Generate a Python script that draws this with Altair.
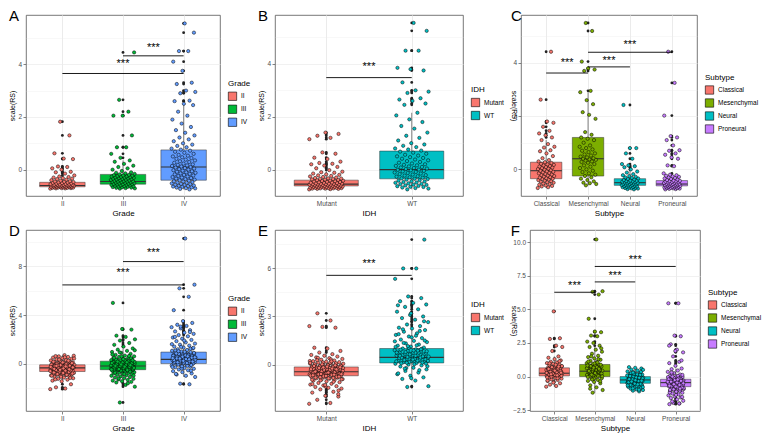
import altair as alt
import pandas as pd

FONT = "Liberation Sans"

# ---------------- Panel A (Grade) ----------------
A_cats = ["II", "III", "IV"]
A_II = [-0.72, -0.71, -0.71, -0.70, -0.70, -0.69, -0.69, -0.68, -0.68, -0.67, -0.67, -0.66, -0.66, -0.65, -0.65,
        -0.64, -0.64, -0.63, -0.63, -0.62, -0.62, -0.61, -0.61, -0.60, -0.60, -0.60, -0.59, -0.59, -0.58, -0.58,
        -0.57, -0.57, -0.56, -0.56, -0.55, -0.54, -0.53, -0.52, -0.51, -0.50, -0.49, -0.48, -0.47, -0.46, -0.45,
        -0.44, -0.42, -0.40, -0.38, -0.36, -0.34, -0.32, -0.30, -0.28, -0.26, -0.22, -0.15, -0.10, -0.08, 0.00,
        0.05, 0.10, 0.12, 0.40, 0.42, 0.62, 1.30, 1.82]
A_III = [-0.72, -0.71, -0.70, -0.69, -0.68, -0.67, -0.66, -0.65, -0.64, -0.63, -0.62, -0.61, -0.60, -0.59, -0.58,
         -0.57, -0.56, -0.55, -0.55, -0.54, -0.53, -0.52, -0.51, -0.50, -0.49, -0.48, -0.47, -0.46, -0.45, -0.45,
         -0.44, -0.43, -0.42, -0.41, -0.40, -0.39, -0.38, -0.37, -0.36, -0.35, -0.34, -0.33, -0.32, -0.31, -0.30,
         -0.29, -0.28, -0.27, -0.26, -0.25, -0.24, -0.23, -0.22, -0.21, -0.20, -0.18, -0.16, -0.14, -0.12, -0.10,
         -0.05, 0.00, 0.05, 0.10, 0.15, 0.22, 0.30, 0.35, 0.45, 0.60, 0.85, 0.85, 1.30, 2.05, 2.05, 2.20, 2.65, 4.45]
A_IV = [-0.75, -0.73, -0.71, -0.70, -0.68, -0.67, -0.65, -0.64, -0.62, -0.61, -0.60, -0.58, -0.57, -0.55, -0.54,
        -0.52, -0.50, -0.49, -0.47, -0.45, -0.44, -0.42, -0.40, -0.38, -0.36, -0.34, -0.32, -0.30, -0.28, -0.26,
        -0.24, -0.22, -0.20, -0.18, -0.16, -0.14, -0.12, -0.10, -0.08, -0.06, -0.04, -0.02, 0.00, 0.02, 0.04,
        0.06, 0.08, 0.10, 0.12, 0.14, 0.16, 0.18, 0.20, 0.23, 0.26, 0.29, 0.32, 0.35, 0.38, 0.41, 0.44, 0.47,
        0.50, 0.53, 0.56, 0.60, 0.64, 0.68, 0.72, 0.76, 0.80, 0.85, 0.90, 0.95, 1.00, 1.08, 1.15, 1.22, 1.30,
        1.40, 1.50, 1.62, 1.75, 1.90, 2.05, 2.20, 2.45, 2.50, 2.60, 2.62, 2.90, 2.95, 3.00, 3.25, 3.30, 3.75,
        4.10, 4.50, 4.50, 5.20, 5.55]
A_lo = [-0.72, -0.72, -0.75]
A_q1 = [-0.65, -0.55, -0.40]
A_med = [-0.60, -0.45, 0.10]
A_q3 = [-0.48, -0.18, 0.75]
A_hi = [-0.26, 0.35, 2.50]
A_sig_from = [1, 2]
A_sig_to = [3, 3]
A_sig_bar = [3.65, 4.32]
A_sig_lab = [4.00, 4.60]

# ---------------- Panel B (IDH) ----------------
B_cats = ["Mutant", "WT"]
B_Mut = [-0.75, -0.74, -0.73, -0.73, -0.72, -0.72, -0.71, -0.71, -0.70, -0.70, -0.69, -0.69, -0.68, -0.68, -0.67,
         -0.67, -0.66, -0.66, -0.65, -0.65, -0.64, -0.64, -0.63, -0.63, -0.62, -0.62, -0.61, -0.61, -0.60, -0.60,
         -0.59, -0.59, -0.58, -0.58, -0.57, -0.57, -0.56, -0.56, -0.55, -0.55, -0.54, -0.54, -0.53, -0.53, -0.52,
         -0.51, -0.50, -0.50, -0.49, -0.48, -0.47, -0.46, -0.45, -0.44, -0.43, -0.42, -0.41, -0.40, -0.39, -0.38,
         -0.37, -0.36, -0.35, -0.34, -0.33, -0.32, -0.30, -0.28, -0.26, -0.24, -0.22, -0.20, -0.18, -0.15, -0.12,
         -0.10, -0.08, -0.02, 0.05, 0.10, 0.15, 0.20, 0.22, 0.25, 0.30, 0.40, 0.45, 0.60, 0.65, 1.15, 1.20,
         1.28, 1.35, 1.40]
B_WT = [-0.75, -0.72, -0.70, -0.68, -0.66, -0.65, -0.63, -0.62, -0.60, -0.58, -0.57, -0.55, -0.54, -0.52, -0.50,
        -0.49, -0.47, -0.45, -0.44, -0.42, -0.40, -0.38, -0.36, -0.35, -0.33, -0.31, -0.29, -0.27, -0.25, -0.23,
        -0.21, -0.19, -0.17, -0.15, -0.13, -0.11, -0.09, -0.07, -0.05, -0.03, -0.01, 0.00, 0.02, 0.04, 0.06,
        0.08, 0.10, 0.12, 0.14, 0.16, 0.18, 0.20, 0.23, 0.26, 0.29, 0.32, 0.35, 0.38, 0.41, 0.44, 0.47, 0.50,
        0.53, 0.56, 0.60, 0.64, 0.68, 0.72, 0.76, 0.80, 0.85, 0.90, 0.95, 1.00, 1.10, 1.20, 1.28, 1.40, 1.55,
        1.65, 1.80, 1.90, 2.05, 2.15, 2.45, 2.50, 2.60, 2.65, 2.70, 2.90, 2.95, 3.00, 3.30, 3.75, 3.80, 3.85,
        4.50, 4.50, 5.25, 5.55]
B_lo = [-0.75, -0.75]
B_q1 = [-0.62, -0.35]
B_med = [-0.55, 0.00]
B_q3 = [-0.40, 0.70]
B_hi = [-0.08, 2.15]
B_sig_from = [1]
B_sig_to = [2]
B_sig_bar = [3.48]
B_sig_lab = [3.90]

# ---------------- Panel C (Subtype) ----------------
C_cats = ["Classical", "Mesenchymal", "Neural", "Proneural"]
C_Cla = [-0.70, -0.67, -0.64, -0.62, -0.60, -0.58, -0.55, -0.53, -0.50, -0.48, -0.46, -0.44, -0.42, -0.40, -0.38,
         -0.36, -0.35, -0.33, -0.31, -0.29, -0.27, -0.25, -0.23, -0.21, -0.19, -0.17, -0.15, -0.13, -0.11, -0.09,
         -0.07, -0.05, -0.03, -0.01, 0.01, 0.03, 0.05, 0.07, 0.09, 0.11, 0.13, 0.15, 0.17, 0.19, 0.21, 0.24,
         0.27, 0.30, 0.35, 0.42, 0.50, 0.60, 0.68, 0.72, 0.82, 0.85, 0.95, 1.10, 1.20, 1.28, 1.35, 1.45, 1.60,
         1.75, 1.80, 2.62, 4.42]
C_Mes = [-0.60, -0.55, -0.52, -0.50, -0.45, -0.40, -0.35, -0.30, -0.25, -0.20, -0.15, -0.10, -0.05, 0.00, 0.05,
         0.10, 0.15, 0.20, 0.25, 0.28, 0.30, 0.33, 0.36, 0.38, 0.40, 0.42, 0.45, 0.48, 0.52, 0.56, 0.60, 0.65,
         0.70, 0.75, 0.80, 0.85, 0.90, 1.00, 1.10, 1.15, 1.20, 1.30, 1.40, 1.90, 2.05, 2.15, 2.45, 2.60, 2.90,
         2.95, 3.70, 3.75, 3.80, 4.05, 5.20, 5.50]
C_Neu = [-0.75, -0.74, -0.72, -0.71, -0.70, -0.69, -0.68, -0.67, -0.66, -0.65, -0.64, -0.63, -0.62, -0.61, -0.60,
         -0.59, -0.58, -0.57, -0.56, -0.55, -0.54, -0.53, -0.52, -0.51, -0.50, -0.49, -0.48, -0.47, -0.46, -0.45,
         -0.44, -0.43, -0.42, -0.40, -0.38, -0.36, -0.34, -0.32, -0.30, -0.28, -0.25, -0.22, -0.18, -0.12, -0.08,
         0.00, 0.08, 0.12, 0.15, 0.20, 0.40, 0.60, 0.80, 0.80, 2.42]
C_Pro = [-0.75, -0.74, -0.73, -0.72, -0.71, -0.70, -0.70, -0.69, -0.68, -0.67, -0.66, -0.66, -0.65, -0.64, -0.63,
         -0.62, -0.62, -0.61, -0.60, -0.59, -0.58, -0.58, -0.57, -0.56, -0.55, -0.55, -0.54, -0.53, -0.52, -0.51,
         -0.50, -0.49, -0.48, -0.47, -0.46, -0.45, -0.44, -0.43, -0.42, -0.40, -0.38, -0.36, -0.34, -0.32, -0.30,
         -0.28, -0.26, -0.24, -0.22, -0.20, -0.15, 0.12, 0.15, 0.40, 0.45, 0.55, 0.60, 0.70, 0.72, 0.90, 1.10,
         1.20, 1.25, 2.02, 3.25, 4.42]
C_lo = [-0.70, -0.60, -0.75, -0.75]
C_q1 = [-0.35, -0.25, -0.60, -0.62]
C_med = [-0.05, 0.40, -0.50, -0.55]
C_q3 = [0.27, 1.20, -0.35, -0.42]
C_hi = [1.10, 2.90, -0.05, -0.20]
C_sig_from = [1, 2, 2]
C_sig_to = [2, 3, 4]
C_sig_bar = [3.62, 3.85, 4.40]
C_sig_lab = [4.00, 4.07, 4.68]

# ---------------- Panel D (Grade) ----------------
D_II = [-2.10, -2.05, -1.95, -1.70, -1.45, -1.40, -1.32, -1.25, -1.20, -1.15, -1.10, -1.05, -1.00, -0.97, -0.94,
        -0.91, -0.88, -0.85, -0.82, -0.80, -0.78, -0.76, -0.74, -0.72, -0.70, -0.68, -0.66, -0.64, -0.62, -0.60,
        -0.58, -0.56, -0.54, -0.52, -0.50, -0.48, -0.46, -0.44, -0.42, -0.40, -0.38, -0.36, -0.35, -0.34, -0.32,
        -0.30, -0.28, -0.26, -0.24, -0.22, -0.20, -0.18, -0.16, -0.14, -0.12, -0.10, -0.08, -0.06, -0.04, -0.02,
        0.00, 0.03, 0.06, 0.09, 0.12, 0.15, 0.18, 0.22, 0.26, 0.30, 0.35, 0.40, 0.45, 0.50, 0.55, 0.60, 0.65,
        0.70, -1.30, -1.18, -1.08, -0.99, -0.92, -0.86, -0.81, -0.77, -0.73, -0.69, -0.65, -0.61, -0.57, -0.53,
        -0.49, -0.45, -0.41, -0.37, -0.33, -0.29, -0.25, -0.21, -0.17, -0.13, -0.09, -0.05, -0.01, 0.04, 0.10,
        0.16, 0.24, 0.33, 0.42, 0.52, 0.62, -0.55, -0.45, -0.35, -0.25, -0.15, -0.31, -0.39, -0.43, -0.47, -0.51,
        -0.27, -0.23, -0.19]
D_III = [-3.20, -1.90, -1.75, -1.55, -1.50, -1.45, -1.40, -1.35, -1.30, -1.25, -1.20, -1.15, -1.10, -1.05, -1.00,
         -0.96, -0.92, -0.88, -0.84, -0.80, -0.77, -0.74, -0.71, -0.68, -0.65, -0.62, -0.60, -0.58, -0.56, -0.54,
         -0.52, -0.50, -0.48, -0.46, -0.44, -0.42, -0.40, -0.38, -0.36, -0.34, -0.32, -0.30, -0.28, -0.26, -0.24,
         -0.22, -0.20, -0.18, -0.16, -0.14, -0.12, -0.10, -0.08, -0.06, -0.04, -0.02, 0.00, 0.02, 0.04, 0.06,
         0.08, 0.10, 0.12, 0.14, 0.16, 0.18, 0.20, 0.23, 0.26, 0.29, 0.32, 0.35, 0.38, 0.42, 0.46, 0.50, 0.55,
         0.60, 0.66, 0.72, 0.80, 0.88, 0.96, 1.05, 1.15, 1.25, 1.40, 1.55, 1.70, 1.90, 2.00, 2.20, 2.30, 2.80,
         2.85, 5.00, -1.62, -1.22, -0.98, -0.86, -0.75, -0.66, -0.57, -0.49, -0.41, -0.33, -0.25, -0.17, -0.09,
         -0.01, 0.07, 0.15, 0.24, 0.34, 0.45, 0.58, 0.75, -0.53, -0.47, -0.43, -0.37, -0.31, -0.27, -0.21, -0.15,
         -0.11, -0.05, 0.03, 0.09, 0.13, 0.19, -0.45, -0.35, -0.25, -0.19, -0.13, -0.07, 0.05, 0.11, 0.17, 0.27,
         0.37, 0.48, 0.63, 0.92, 1.10]
D_IV = [-1.70, -1.65, -1.10, -1.00, -0.90, -0.80, -0.70, -0.62, -0.55, -0.48, -0.42, -0.36, -0.30, -0.25, -0.20,
        -0.15, -0.10, -0.06, -0.02, 0.00, 0.03, 0.06, 0.09, 0.12, 0.15, 0.18, 0.21, 0.24, 0.27, 0.30, 0.33, 0.35,
        0.38, 0.41, 0.44, 0.47, 0.50, 0.54, 0.58, 0.62, 0.66, 0.70, 0.74, 0.78, 0.82, 0.86, 0.90, 0.95, 1.00,
        1.06, 1.12, 1.18, 1.25, 1.32, 1.40, 1.48, 1.56, 1.65, 1.75, 1.85, 1.95, 2.05, 2.15, 2.25, 2.35, 2.45,
        2.55, 2.65, 2.75, 2.90, 3.00, 3.10, 3.20, 3.35, 3.50, 4.40, 5.50, 6.20, 6.50, 10.30, -0.85, -0.58,
        -0.40, -0.28, -0.18, -0.08, 0.01, 0.08, 0.14, 0.20, 0.26, 0.32, 0.37, 0.43, 0.49, 0.56, 0.64, 0.72,
        0.80, 0.88, 0.97, 1.08, 1.22, 1.38, 1.60, 0.05, 0.11, 0.17, 0.23, 0.29, 0.36, 0.42, 0.52, 0.68, 0.84,
        -0.12, -0.22, 0.45, 0.60, 1.02, 1.30, 1.90, 2.20, 2.60, 3.05]
D_lo = [-1.45, -1.55, -1.10]
D_q1 = [-0.65, -0.50, 0.00]
D_med = [-0.35, -0.20, 0.35]
D_q3 = [-0.10, 0.20, 0.95]
D_hi = [0.70, 1.25, 2.30]
D_sig_from = [1, 2]
D_sig_to = [3, 3]
D_sig_bar = [6.48, 8.40]
D_sig_lab = [7.47, 9.09]

# ---------------- Panel E (IDH) ----------------
E_Mut = [-2.45, -2.40, -2.20, -2.00, -1.95, -1.75, -1.70, -1.55, -1.50, -1.45, -1.40, -1.35, -1.30, -1.25, -1.20,
         -1.15, -1.10, -1.05, -1.00, -0.97, -0.94, -0.91, -0.88, -0.85, -0.82, -0.80, -0.78, -0.76, -0.74, -0.72,
         -0.70, -0.68, -0.66, -0.64, -0.62, -0.60, -0.58, -0.56, -0.54, -0.52, -0.50, -0.48, -0.46, -0.45, -0.44,
         -0.42, -0.40, -0.38, -0.36, -0.34, -0.32, -0.30, -0.28, -0.26, -0.24, -0.22, -0.20, -0.18, -0.16, -0.14,
         -0.12, -0.10, -0.08, -0.06, -0.04, -0.02, 0.00, 0.03, 0.06, 0.09, 0.12, 0.15, 0.18, 0.21, 0.25, 0.30,
         0.35, 0.40, 0.45, 0.50, 0.55, 0.60, 0.65, 0.75, 0.85, 1.00, 1.05, 2.30, 2.35, 2.40, 2.75, 3.20, -1.62,
         -1.38, -1.22, -1.08, -0.99, -0.92, -0.86, -0.81, -0.77, -0.73, -0.69, -0.65, -0.61, -0.57, -0.53, -0.49,
         -0.47, -0.43, -0.39, -0.35, -0.31, -0.27, -0.23, -0.19, -0.15, -0.11, -0.07, -0.03, 0.02, 0.08, 0.14,
         0.22, 0.32, 0.42, -0.75, -0.71, -0.67, -0.63, -0.59, -0.55, -0.51, -0.41, -0.37, -0.33, -0.29, -0.25,
         -0.21, -0.17, -0.13, -0.09, -0.05, 0.01, 0.05, 0.11, 0.27, -1.85, -1.28, -0.95, -0.84, -0.79, -0.60,
         -0.50, -0.44, -0.30, -0.18, 0.10, 0.20]
E_WT = [-1.40, -1.35, -1.00, -0.90, -0.80, -0.70, -0.60, -0.50, -0.40, -0.30, -0.20, -0.12, -0.05, 0.00, 0.05,
        0.10, 0.14, 0.18, 0.22, 0.26, 0.30, 0.34, 0.38, 0.42, 0.45, 0.48, 0.52, 0.56, 0.60, 0.64, 0.68, 0.72,
        0.76, 0.80, 0.85, 0.90, 0.95, 1.00, 1.06, 1.12, 1.18, 1.25, 1.32, 1.40, 1.48, 1.56, 1.65, 1.75, 1.85,
        1.95, 2.05, 2.15, 2.25, 2.30, 2.40, 2.50, 2.65, 2.80, 2.90, 3.00, 3.10, 3.30, 3.45, 3.60, 3.75, 3.85,
        3.95, 4.15, 4.25, 5.35, 6.00, 6.00, 7.80, -0.85, -0.55, -0.35, -0.22, -0.10, 0.02, 0.08, 0.12, 0.16,
        0.20, 0.24, 0.28, 0.32, 0.36, 0.40, 0.44, 0.47, 0.50, 0.54, 0.58, 0.62, 0.66, 0.70, 0.74, 0.78, 0.83,
        0.88, 0.93, 0.98, 1.04, 1.10, 1.20, 1.35, 1.50, 1.70, 1.90, 2.10, 0.11, 0.23, 0.35, 0.43, 0.51, 0.63,
        0.75, 0.87, -0.25, 0.06, 0.31, 0.55, 0.95, 1.15, 1.45, 1.80, 2.20, 2.70, 3.20, 3.70]
E_lo = [-1.50, -1.00]
E_q1 = [-0.70, 0.10]
E_med = [-0.45, 0.45]
E_q3 = [-0.15, 1.00]
E_hi = [0.65, 2.30]
E_sig_from = [1]
E_sig_to = [2]
E_sig_bar = [5.57]
E_sig_lab = [6.26]

# ---------------- Panel F (Subtype) ----------------
F_Cla = [-0.75, -0.70, -0.60, -0.50, -0.40, -0.32, -0.25, -0.20, -0.15, -0.10, -0.06, -0.02, 0.02, 0.05, 0.08,
         0.10, 0.12, 0.14, 0.16, 0.18, 0.20, 0.22, 0.24, 0.25, 0.26, 0.28, 0.30, 0.32, 0.34, 0.36, 0.38, 0.40,
         0.43, 0.46, 0.49, 0.52, 0.55, 0.58, 0.62, 0.65, 0.68, 0.72, 0.76, 0.80, 0.85, 0.90, 0.95, 1.00, 1.05,
         1.10, 1.20, 1.30, 1.40, 1.50, 1.90, 2.20, 2.30, 2.80, 2.85, 4.85, -0.30, -0.12, 0.00, 0.06, 0.11, 0.15,
         0.19, 0.23, 0.27, 0.31, 0.35, 0.41, 0.47, 0.54, 0.60, 0.70, 0.78, 0.88, 0.98, 1.15, -0.45, -0.05, 0.09,
         0.17, 0.29, 0.44, 0.57, 0.74]
F_Mes = [-1.20, -1.00, -0.80, -0.65, -0.50, -0.40, -0.32, -0.25, -0.18, -0.12, -0.06, 0.00, 0.04, 0.08, 0.12,
         0.16, 0.20, 0.24, 0.28, 0.32, 0.36, 0.40, 0.44, 0.48, 0.52, 0.56, 0.60, 0.64, 0.68, 0.72, 0.76, 0.80,
         0.85, 0.90, 0.95, 1.00, 1.08, 1.16, 1.25, 1.35, 1.45, 1.55, 1.70, 1.85, 2.00, 2.20, 2.30, 2.50, 2.60,
         3.00, 3.05, 3.30, 3.35, 4.30, 6.10, 6.30, 6.35, 10.20, -0.90, -0.35, -0.15, -0.03, 0.06, 0.14, 0.22,
         0.30, 0.38, 0.46, 0.54, 0.62, 0.70, 0.78, 0.88, 0.98, 1.12, 1.30, -0.22, 0.02, 0.18, 0.34, 0.50, 0.66,
         0.82, 1.05, 1.50, 2.10, 0.26, 0.42, 0.58]
F_Neu = [-1.10, -1.05, -1.00, -0.95, -0.90, -0.85, -0.80, -0.76, -0.72, -0.68, -0.64, -0.60, -0.56, -0.52, -0.50,
         -0.48, -0.46, -0.44, -0.42, -0.40, -0.38, -0.36, -0.34, -0.32, -0.30, -0.28, -0.26, -0.25, -0.24, -0.22,
         -0.20, -0.18, -0.16, -0.14, -0.12, -0.10, -0.08, -0.06, -0.04, -0.02, 0.00, 0.03, 0.06, 0.10, 0.14,
         0.18, 0.22, 0.27, 0.32, 0.38, 0.45, 0.52, 0.60, 0.65, 0.70, -0.98, -0.88, -0.78, -0.70, -0.62, -0.55,
         -0.47, -0.41, -0.35, -0.29, -0.23, -0.17, -0.11, -0.05, 0.01, 0.08, 0.16, 0.25, 0.35, -0.53, -0.43,
         -0.33, -0.21, -0.13, -0.07, 0.04, 0.12, 0.20, -0.66, -0.58, -0.37, -0.31, -0.27, -0.19, -0.09, 0.30, 0.50]
F_Pro = [-2.05, -2.00, -1.95, -1.80, -1.70, -1.60, -1.55, -1.48, -1.40, -1.33, -1.26, -1.20, -1.14, -1.08, -1.02,
         -0.97, -0.92, -0.88, -0.84, -0.80, -0.76, -0.73, -0.70, -0.67, -0.64, -0.61, -0.58, -0.55, -0.52, -0.49,
         -0.46, -0.45, -0.43, -0.40, -0.37, -0.34, -0.31, -0.28, -0.25, -0.22, -0.19, -0.16, -0.13, -0.10, -0.06,
         -0.02, 0.02, 0.08, 0.15, 0.25, 0.35, 0.45, 0.55, 0.60, 0.80, 1.00, 1.10, 1.50, 1.80, 2.00, 2.40, 3.00,
         3.05, 5.45, 5.45, -1.85, -1.52, -1.36, -1.18, -1.05, -0.95, -0.86, -0.78, -0.71, -0.65, -0.59, -0.53,
         -0.47, -0.41, -0.35, -0.29, -0.23, -0.17, -0.11, -0.04, 0.05, 0.20, -0.82, -0.74, -0.68, -0.62, -0.56,
         -0.50, -0.44, -0.38, -0.32, -0.26, -0.20, -0.14, 0.00, 0.12, -1.12, -0.99, -0.90, -0.57, -0.39, -0.21,
         0.30, 1.20, 1.90, 2.30, -2.00]
F_lo = [-0.75, -1.20, -1.10, -1.55]
F_q1 = [0.05, 0.00, -0.50, -0.75]
F_med = [0.25, 0.40, -0.25, -0.45]
F_q3 = [0.65, 0.90, 0.00, -0.20]
F_hi = [1.50, 2.20, 0.70, 0.60]
F_sig_from = [1, 2, 2]
F_sig_to = [2, 3, 4]
F_sig_bar = [6.27, 7.04, 8.19]
F_sig_lab = [6.70, 7.50, 8.70]

COL3 = ["#F8766D", "#00BA38", "#619CFF"]
COL2 = ["#F8766D", "#00BFC4"]
COL4 = ["#F8766D", "#7CAE00", "#00BFC4", "#C77CFF"]


def panel(letter, cats, colors, groups, lo, q1, med, q3, hi, sfrom, sto, sbar, slab,
          ydom, ymaj, ymin, xtitle, ltitle, w, h, tangle=-90, fmt=None):
    n = len(cats)
    rows = []
    for gi, (c, vals) in enumerate(zip(cats, groups)):
        for i, v in enumerate(vals):
            off = (((i * 0.6180339887) + 0.37 * gi) % 1.0 - 0.5) * 0.4
            rows.append(dict(grp=c, pos=gi + 1, xj=gi + 1 + off, val=v,
                             out=bool(v < lo[gi] or v > hi[gi])))
    pts = pd.DataFrame(rows)
    st = pd.DataFrame(dict(grp=cats, pos=list(range(1, n + 1)), lo=lo, q1=q1, med=med, q3=q3, hi=hi))
    sg = pd.DataFrame(dict(x1=sfrom, x2=sto, ybar=sbar, ylab=slab))

    xs = alt.Scale(domain=[0.4, n + 0.6], nice=False, zero=False)
    ys = alt.Scale(domain=ydom, nice=False, zero=False)
    fs = alt.Scale(domain=cats, range=colors)
    lab_arr = "[" + ",".join("'" + c + "'" for c in cats) + "]"
    xa = alt.Axis(values=list(range(1, n + 1)), labelExpr=lab_arr + "[datum.value-1]", title=xtitle,
                  titleFontWeight="normal", titleFontSize=8, titlePadding=2)
    allv = sorted(ymaj + ymin)
    test = "indexof([" + ",".join(str(v) for v in ymaj) + "], datum.value) >= 0"
    yargs = dict(values=allv, title="scale(RS)", titleAngle=tangle,
                 titleFontWeight="normal", titleFontSize=7, titlePadding=2,
                 labelExpr="(" + test + ") ? datum.label : ''",
                 tickOpacity={"condition": {"test": test, "value": 1}, "value": 0},
                 gridWidth={"condition": {"test": test, "value": 0.7}, "value": 0.35})
    if fmt:
        yargs["format"] = fmt
    ya = alt.Axis(**yargs)
    leg = alt.Legend(title=ltitle, orient="none", legendX=w + 8, legendY=h / 2 - (14 + 12.5 * n) / 2,
                     symbolType="square", symbolStrokeColor="black", symbolStrokeWidth=0.6,
                     symbolSize=70, labelFontSize=6.5, titleFontSize=8, titleFontWeight="normal",
                     rowPadding=2, labelOffset=4, titlePadding=4)

    whisk = alt.Chart(st).mark_rule(color="#333333", strokeWidth=0.6).encode(
        x=alt.X("pos:Q", scale=xs, axis=xa), y=alt.Y("lo:Q", scale=ys, axis=ya), y2="hi:Q")
    box = alt.Chart(st).transform_calculate(xl="datum.pos-0.375", xr="datum.pos+0.375").mark_rect(
        stroke="#333333", strokeWidth=0.5).encode(
        x=alt.X("xl:Q", scale=xs, axis=xa), x2="xr:Q",
        y=alt.Y("q1:Q", scale=ys, axis=ya), y2="q3:Q",
        fill=alt.Fill("grp:N", scale=fs, legend=leg))
    medl = alt.Chart(st).transform_calculate(xl="datum.pos-0.375", xr="datum.pos+0.375").mark_rule(
        color="#333333", strokeWidth=1.1).encode(
        x=alt.X("xl:Q", scale=xs, axis=xa), x2="xr:Q", y=alt.Y("med:Q", scale=ys, axis=ya))
    outl = alt.Chart(pts).transform_filter("datum.out").mark_circle(
        color="#222222", size=8, opacity=1).encode(
        x=alt.X("pos:Q", scale=xs, axis=xa), y=alt.Y("val:Q", scale=ys, axis=ya))
    jit = alt.Chart(pts).mark_circle(size=11, opacity=1, stroke="black", strokeWidth=0.5).encode(
        x=alt.X("xj:Q", scale=xs, axis=xa), y=alt.Y("val:Q", scale=ys, axis=ya),
        fill=alt.Fill("grp:N", scale=fs, legend=leg))
    sigr = alt.Chart(sg).mark_rule(color="black", strokeWidth=0.9).encode(
        x=alt.X("x1:Q", scale=xs, axis=xa), x2="x2:Q", y=alt.Y("ybar:Q", scale=ys, axis=ya))
    sigt = alt.Chart(sg).transform_calculate(xm="(datum.x1+datum.x2)/2").mark_text(
        text="***", fontSize=11, baseline="middle", color="black").encode(
        x=alt.X("xm:Q", scale=xs, axis=xa), y=alt.Y("ylab:Q", scale=ys, axis=ya))

    return alt.layer(whisk, box, medl, outl, jit, sigr, sigt).properties(
        width=w, height=h,
        title=alt.TitleParams(letter, anchor="start", frame="bounds", fontSize=15,
                              fontWeight="normal", offset=-9, font=FONT))


H = 181
pA = panel("A", A_cats, COL3, [A_II, A_III, A_IV], A_lo, A_q1, A_med, A_q3, A_hi,
           A_sig_from, A_sig_to, A_sig_bar, A_sig_lab, [-1.0, 5.87], [0, 2, 4], [1, 3, 5],
           "Grade", "Grade", 194, H)
pB = panel("B", B_cats, COL2, [B_Mut, B_WT], B_lo, B_q1, B_med, B_q3, B_hi,
           B_sig_from, B_sig_to, B_sig_bar, B_sig_lab, [-1.0, 5.85], [0, 2, 4], [1, 3, 5],
           "IDH", "IDH", 188, H)
pC = panel("C", C_cats, COL4, [C_Cla, C_Mes, C_Neu, C_Pro], C_lo, C_q1, C_med, C_q3, C_hi,
           C_sig_from, C_sig_to, C_sig_bar, C_sig_lab, [-1.0, 5.8], [0, 2, 4], [1, 3, 5],
           "Subtype", "Subtype", 176, H, tangle=90)
pD = panel("D", A_cats, COL3, [D_II, D_III, D_IV], D_lo, D_q1, D_med, D_q3, D_hi,
           D_sig_from, D_sig_to, D_sig_bar, D_sig_lab, [-3.9, 11.0], [0, 4, 8], [-2, 2, 6, 10],
           "Grade", "Grade", 194, H)
pE = panel("E", B_cats, COL2, [E_Mut, E_WT], E_lo, E_q1, E_med, E_q3, E_hi,
           E_sig_from, E_sig_to, E_sig_bar, E_sig_lab, [-2.9, 8.4], [0, 3, 6], [-1.5, 1.5, 4.5, 7.5],
           "IDH", "IDH", 188, H)
pF = panel("F", C_cats, COL4, [F_Cla, F_Mes, F_Neu, F_Pro], F_lo, F_q1, F_med, F_q3, F_hi,
           F_sig_from, F_sig_to, F_sig_bar, F_sig_lab, [-2.56, 10.9], [-2.5, 0, 2.5, 5, 7.5, 10],
           [-1.25, 1.25, 3.75, 6.25, 8.75], "Subtype", "Subtype", 170, H, tangle=90, fmt=".1f")

row1 = alt.hconcat(pA, pB, pC, spacing=5).resolve_scale(x="independent", y="independent", fill="independent")
row2 = alt.hconcat(pD, pE, pF, spacing=5).resolve_scale(x="independent", y="independent", fill="independent")
chart = alt.vconcat(row1, row2, spacing=5).resolve_scale(
    x="independent", y="independent", fill="independent").configure(
    font=FONT, background="white", padding=0).configure_view(
    stroke="#555555", strokeWidth=0.8).configure_axis(
    domain=False, grid=True, gridColor="#EBEBEB", tickColor="#333333", tickSize=3, tickWidth=0.6,
    labelFontSize=6.5, labelColor="#4D4D4D", labelPadding=1.5, titleFontSize=8,
    titleFontWeight="normal", titleColor="black", titlePadding=2).configure_legend(
    labelColor="black", titleColor="black")

chart.save("out.html", embed_options={"renderer": "svg", "actions": False})
